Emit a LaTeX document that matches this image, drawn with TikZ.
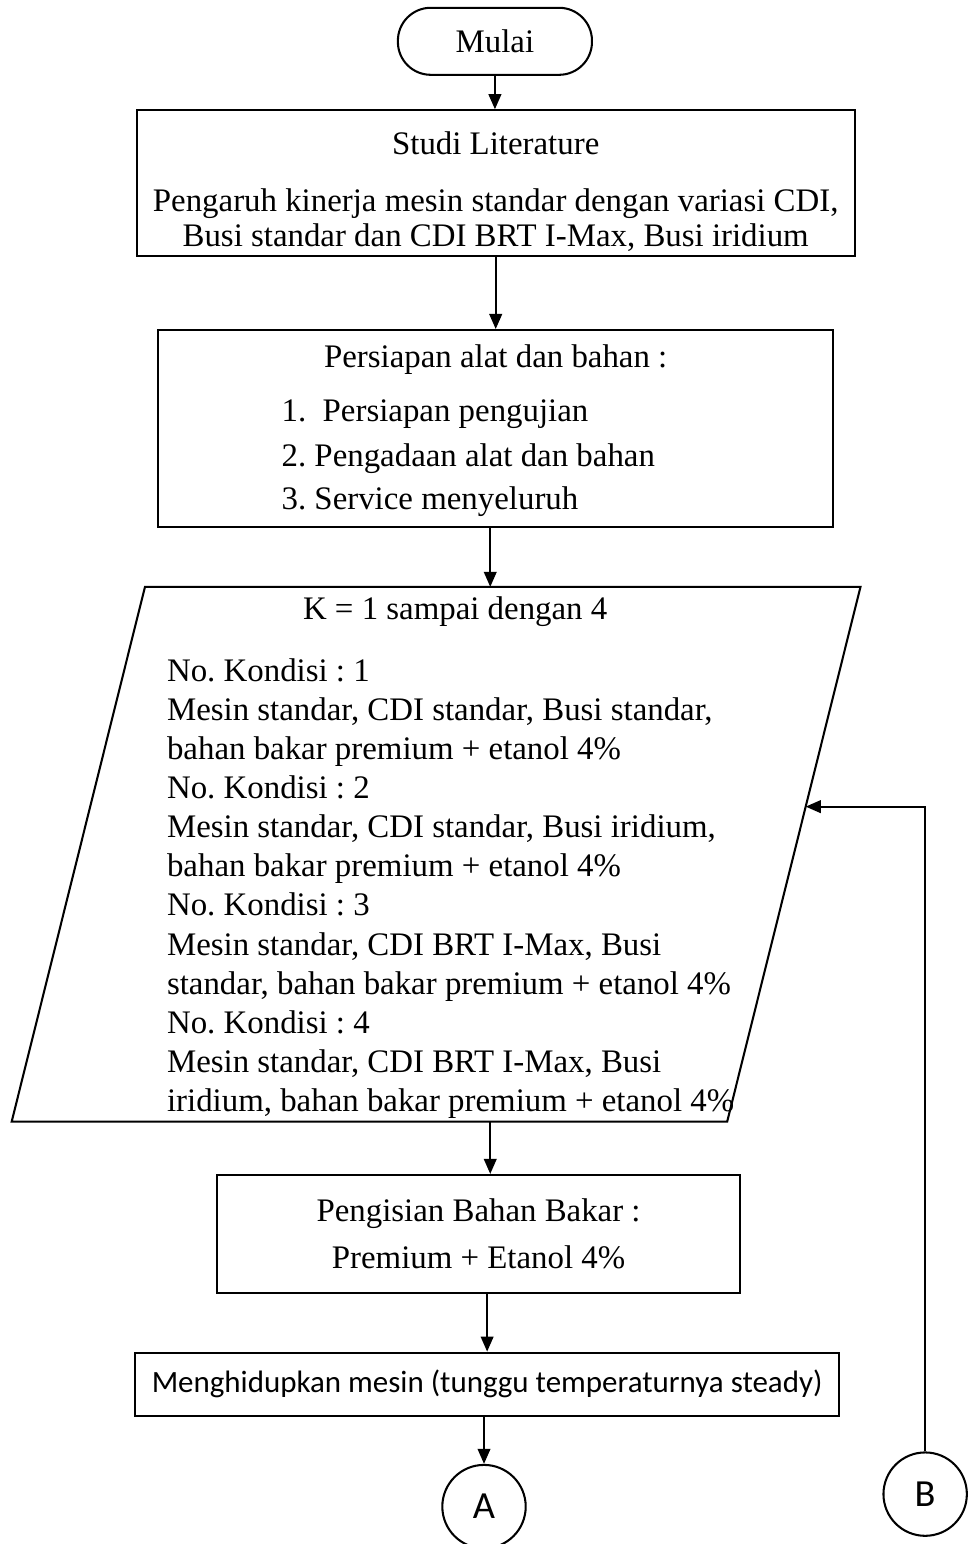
\documentclass[tikz,border=0pt]{standalone}
\usepackage{fontspec}
\setmainfont{Liberation Serif}
\newfontfamily\calibri{Carlito}
\usetikzlibrary{arrows.meta,calc,positioning}
\frenchspacing

\begin{document}
\begin{tikzpicture}[line width=0.75pt, >={Triangle[length=5.5pt,width=4.6pt]},
    box/.style={draw, fill=white, inner sep=2pt, align=center, font=\fontsize{12}{12.8}\selectfont},
    term/.style={draw, rounded corners=12pt, minimum width=2.49cm, minimum height=0.86cm, font=\fontsize{12}{14}\selectfont},
    conn/.style={draw, circle, minimum size=1.07cm, inner sep=0pt, font=\calibri\fontsize{14}{16}\selectfont},
    txt/.style={inner sep=0pt, font=\fontsize{12}{14.27}\selectfont}]
  \useasboundingbox (0,0) rectangle (12.44,-19.81);
  % start
  \node[term] (mulai) at (6.35,-0.53) {Mulai};
  % literature
  \node[box, minimum width=9.21cm, minimum height=1.87cm] (studi) at (6.36,-2.35) {};
  \node[txt, align=center, font=\fontsize{12}{12.8}\selectfont] (studiisi) at (6.36,-2.46)
       {Studi Literature\\[8pt] Pengaruh kinerja mesin standar dengan variasi CDI,\\ Busi standar dan CDI BRT I-Max, Busi iridium};
  % preparation
  \node[box, minimum width=8.66cm, minimum height=2.53cm] (persiapan) at (6.36,-5.50) {};
  \node[txt] (judul) at (6.36,-4.62) {Persiapan alat dan bahan :};
  \node[txt, anchor=west] (p1) at (3.60,-5.31) {1.\ \ Persiapan pengujian};
  \node[txt, anchor=west] (p2) at (3.60,-5.88) {2. Pengadaan alat dan bahan};
  \node[txt, anchor=west] (p3) at (3.60,-6.44) {3. Service menyeluruh};
  % input: conditions K = 1..4
  \coordinate (pTL) at (1.86,-7.53); \coordinate (pTR) at (11.04,-7.53);
  \coordinate (pBR) at (9.33,-14.39); \coordinate (pBL) at (0.15,-14.39);
  \draw (pTL) -- (pTR) -- (pBR) -- (pBL) -- cycle;
  \coordinate (kTop) at (6.29,-7.53); \coordinate (kBot) at (6.29,-14.39);
  \coordinate (kIn) at ($(pTR)!0.411!(pBR)$);
  \node[txt] (kjudul) at (5.84,-7.85) {K = 1 sampai dengan 4};
  \node[txt, anchor=west, align=left] (kondisi) at (2.13,-11.40)
       {No. Kondisi : 1\\ Mesin standar, CDI standar, Busi standar,\\ bahan bakar premium + etanol 4\%\\
        No. Kondisi : 2\\ Mesin standar, CDI standar, Busi iridium,\\ bahan bakar premium + etanol 4\%\\
        No. Kondisi : 3\\ Mesin standar, CDI BRT I-Max, Busi\\ standar, bahan bakar premium + etanol 4\%\\
        No. Kondisi : 4\\ Mesin standar, CDI BRT I-Max, Busi\\ iridium, bahan bakar premium + etanol 4\%};
  % fuel
  \node[box, minimum width=6.71cm, minimum height=1.51cm] (pengisian) at (6.14,-15.83)
       {Pengisian Bahan Bakar :\\[4pt] Premium + Etanol 4\%};
  % engine on
  \node[box, minimum width=9.04cm, minimum height=0.81cm, font=\calibri\fontsize{11.3}{14}\selectfont] (hidup) at (6.25,-17.76)
       {Menghidupkan mesin (tunggu temperaturnya steady)};
  % connectors
  \node[conn] (A) at (6.21,-19.33) {A};
  \node[conn] (B) at (11.87,-19.17) {B};
  % arrows
  \draw[->] (mulai.south) -- (mulai.south |- studi.north);
  \draw[->] (studi.south) -- (studi.south |- persiapan.north);
  \draw[->] (kTop |- persiapan.south) -- (kTop);
  \draw[->] (kBot) -- (kBot |- pengisian.north);
  \draw[->] (hidup.north |- pengisian.south) -- (hidup.north);
  \draw[->] (A.north |- hidup.south) -- (A.north);
  \draw[->] (B.north) |- (kIn);
\end{tikzpicture}
\end{document}
